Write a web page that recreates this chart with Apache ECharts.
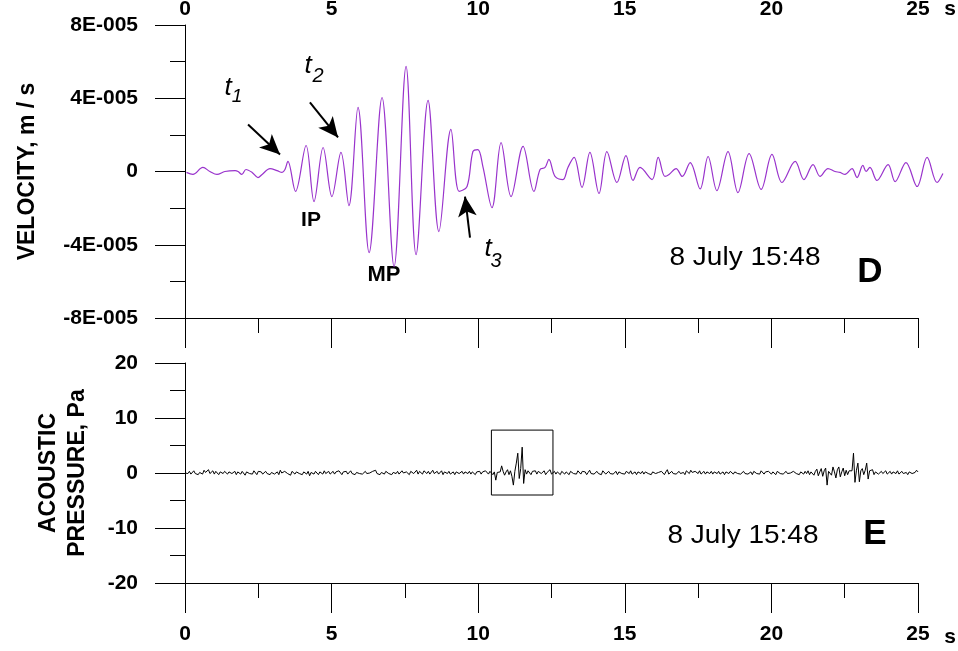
<!DOCTYPE html>
<html>
<head>
<meta charset="utf-8">
<title>Velocity and acoustic pressure, 8 July 15:48</title>
<script src="https://cdn.jsdelivr.net/npm/echarts@6/dist/echarts.min.js"></script>
<style>
  html, body { margin: 0; padding: 0; background: #fff; }
  #chart { width: 958px; height: 651px; }
</style>
</head>
<body>
<div id="chart"></div>
<script>
// Time ticks shared by both panels (s)
const timeTicks = [0, 5, 10, 15, 20, 25];

// Ground velocity: sample times (s) and values (units of 1E-005 m/s)
const velTime = [
  0.05, 0.27, 0.61, 0.85, 1.09, 1.36, 1.71, 1.81, 1.94, 2.08,
  2.29, 2.49, 2.63, 2.90, 3.14, 3.31, 3.41, 3.51, 3.77, 4.13,
  4.40, 4.71, 5.01, 5.32, 5.59, 5.90, 6.28, 6.72, 7.13, 7.54,
  7.88, 8.29, 8.66, 9.07, 9.35, 9.62, 9.82, 9.99, 10.16, 10.47,
  10.78, 11.12, 11.53, 11.90, 12.11, 12.28, 12.41, 12.62, 12.89, 13.06,
  13.27, 13.54, 13.81, 14.12, 14.39, 14.73, 15.04, 15.28, 15.52, 15.93,
  16.14, 16.37, 16.51, 16.75, 16.96, 17.23, 17.57, 17.84, 18.14, 18.52,
  18.86, 19.24, 19.65, 20.02, 20.36, 20.81, 21.11, 21.42, 21.66, 21.93,
  22.17, 22.34, 22.51, 22.75, 22.92, 23.12, 23.23, 23.36, 23.60, 23.98,
  24.22, 24.59, 24.97, 25.31, 25.65, 25.85
];
const velValue = [
  -0.05, -0.16, 0.22, 0, -0.16, 0, 0.05, 0, -0.16, 0.11,
  -0.05, -0.33, -0.16, 0.16, 0.05, -0.05, 0.11, 0.55, -1.09, 1.42,
  -1.64, 1.31, -1.37, 1.04, -1.86, 3.50, -4.43, 4.04, -5.19, 5.74,
  -4.54, 3.88, -3.28, 2.30, -1.09, -0.82, 1.09, 1.20, 0.27, -1.97,
  1.58, -1.37, 1.37, -1.09, 0.11, 0.22, 0.66, -0.27, -0.44, 0.22,
  0.77, -0.87, 1.04, -1.20, 1.09, -0.60, 0.87, -0.49, 0.22, -0.44,
  0.77, -0.27, -0.16, 0.16, -0.27, 0.49, -0.95, 0.82, -1.04, 1.09,
  -1.15, 0.98, -0.98, 0.93, -0.60, 0.55, -0.44, 0.38, -0.27, 0.16,
  0, -0.05, -0.16, 0.16, -0.33, 0.33, 0, 0.22, -0.49, 0.38,
  -0.55, 0.49, -0.82, 0.77, -0.60, -0.11
];
const VEL_UNIT = 1e-5;
// The velocity record runs a little past the last time tick
const VEL_T_END = 26;

// Acoustic pressure (Pa), sampled every 0.05 s from t = 0 (one row per second)
const PRESSURE_DT = 0.05;
const pressure = [
  0, 0.2, -0.1, 0.3, -0.2, 0.1, 0.4, -0.1, 0.2, -0.3, 0.1, 0.3, -0.2, 0.5, 0.1, -0.2, 0.6, -0.1, 0.2, 0.4,
  -0.2, 0.3, 0.1, -0.3, 0.2, 0.4, -0.1, 0.3, 0, -0.2, 0.2, 0.5, -0.1, 0.1, 0.3, -0.3, 0.2, 0.1, -0.2, 0.3,
  0.1, -0.4, 0.2, 0.3, -0.1, 0.2, -0.2, 0.4, 0.1, -0.3, 0.3, 0, 0.2, -0.2, 0.1, 0.3, -0.1, 0.2, -0.3, 0.1,
  0.4, -0.2, 0.1, 0.2, -0.3, 0.5, 0, -0.2, 0.3, 0.1, -0.1, 0.2, -0.4, 0.3, 0.1, -0.2, 0.2, 0.4, -0.1, 0.1,
  -0.3, 0.2, 0.1, -0.2, 0.3, -0.5, 0.1, 0.2, -0.2, 0.3, 0, -0.3, 0.2, 0.1, -0.2, 0.4, -0.1, 0.2, 0.3, -0.2,
  0.1, 0.3, -0.2, 0.2, -0.1, 0.4, 0.1, -0.3, 0.2, 0, 0.3, -0.2, 0.1, 0.4, -0.1, 0.2, -0.3, 0.1, 0.3, -0.1,
  0.2, -0.2, 0.1, 0.3, -0.1, 0.2, 0, -0.2, 0.3, 0.1, 0.5, -0.1, 0.2, -0.3, 0.1, 0.2, -0.2, 0.3, 0.1, -0.1,
  0.2, -0.3, 0.1, 0.2, -0.1, 0.3, -0.2, 0.1, 0.4, 0, -0.2, 0.2, 0.1, -0.3, 0.3, 0.1, -0.1, 0.2, 0.5, -0.2,
  0.3, 0.1, -0.2, 0.4, 0.2, -0.1, 0.3, -0.2, 0.1, 0.5, -0.1, 0.2, 0.3, -0.2, 0.1, 0.4, -0.3, 0.2, 0.1, -0.1,
  0.3, -0.2, 0.1, 0.2, -0.3, 0.2, 0.4, -0.1, 0.1, 0.3, -0.2, 0.2, 0.1, -0.1, 0.3, -0.2, 0.2, 0.1, -0.3, 0.2,
  0.1, 0.3, -0.2, 0.2, -0.1, 0.4, 0.1, -0.2, 0.3, 0.5, -0.3, 0.2, -1.3, 0.1, 0.4, 0.2, 1.3, 0.3, -0.4, 0.2,
  0.6, -0.3, 0.4, -0.6, -2.2, 0.3, 1.8, 3.6, -1.0, 0.8, 4.7, -1.9, 0.6, -0.2, 0.4, 0.1, -0.3, 0.3, 0.1, 0.4,
  -0.2, 0.3, 0.5, -0.1, 0.2, 0.4, -0.3, 0.1, 0.2, 0.6, -0.2, 0.1, 0.3, -0.2, 0.2, 0.1, -0.3, 0.3, 0, -0.2,
  0.2, 0.1, -0.3, 0.3, 0.1, -0.1, 0.2, -0.2, 0.4, 0.1, -0.2, 0.3, 0, 0.2, -0.3, 0.1, 0.5, -0.1, 0.2, -0.2,
  0.1, 0.3, -0.1, 0.2, -0.3, 0.4, 0.6, -0.2, 0.1, 0.3, -0.1, 0.2, -0.2, 0.1, 0.3, -0.3, 0.2, 0.1, -0.1, 0.2,
  -0.2, 0.3, 0.1, -0.1, 0.4, -0.2, 0.1, 0.2, -0.3, 0.2, 0.1, -0.1, 0.3, -0.2, 0.2, 0.4, -0.1, 0.1, -0.3, 0.2,
  0.3, -0.1, 0.2, 0.1, -0.2, 0.3, 0.1, -0.3, 0.2, 0.6, -0.2, 0.1, 0.3, -0.1, 0.2, -0.2, 0.1, 0.3, -0.1, 0.2,
  0.1, -0.3, 0.4, 0.2, -0.1, 0.5, 0.1, -0.2, 0.3, 0.2, -0.1, 0.4, -0.2, 0.1, 0.3, -0.2, 0.2, 0, -0.1, 0.3,
  -0.2, 0.2, 0.1, -0.1, 0.3, -0.2, 0.1, 0.2, -0.3, 0.2, 0.1, -0.1, 0.3, 0, -0.2, 0.2, 0.1, -0.1, 0.2, -0.2,
  0.1, 0.3, -0.1, 0.2, -0.2, 0.1, 0.2, -0.3, 0.3, 0.1, -0.1, 0.2, -0.2, 0.4, 0.1, -0.2, 0.2, -0.1, 0.3, 0.1,
  -0.2, 0.2, 0.1, -0.3, 0.3, 0.1, -0.1, 0.2, -0.2, 0.1, 0.3, -0.1, 0.2, 0, -0.2, 0.3, 0.1, -0.1, 0.2, -0.3,
  0.2, 0.1, -0.2, 0.3, -0.1, 0.4, -0.3, 0.2, 0.5, -0.4, 0.3, 0.7, -0.5, 0.2, 0.8, -0.6, 0.4, 0.9, -2.2, 0.3,
  0.5, -0.4, 1.1, 0.2, -0.9, 0.6, 1.1, -0.7, 0.2, 0.9, -0.5, 0.5, -0.3, 0.4, 0.2, 0.4, 3.6, -1.7, 0.5, 1.8,
  -1.6, 0.4, 0.8, -0.3, 0.5, 1.8, -1.1, 0.4, 0.2, 0.6, -0.3, 0.2, 0.4, -0.2, 0.1, 0.3, -0.1, 0.2, 0.4, -0.2,
  0.1, 0.3, -0.2, 0.2, 0.1, -0.1, 0.4, -0.2, 0.1, 0.3, -0.1, 0.2, 0.1, -0.3, 0.2, 0.4, -0.1, 0.2, 0.1, 0.5,
  0.2
];

// Arrow annotations on the velocity trace: [tailTime, tailVel, tipTime, tipVel] (vel in 1E-005 m/s)
const arrowT1 = [2.15, 2.57, 3.24, 0.93];
const arrowT2 = [4.26, 3.77, 5.22, 1.86];
const arrowT3 = [9.72, -3.61, 9.55, -1.37];

// Boxed pressure burst: [t0, p0, t1, p1]
const burstBox = [10.45, 7.8, 12.55, -4.0];

const velocityData = velTime.map((t, i) => [t, velValue[i] * VEL_UNIT]);
const pressureData = pressure.map((p, i) => [+(i * PRESSURE_DT).toFixed(2), p]);

const FONT = '"Liberation Sans", Arial, Helvetica, sans-serif';
const BLACK = '#000';

// Plot frame geometry (px)
const PLOT_LEFT = 185;
const PLOT_WIDTH = 733;
const T_MAX = timeTicks[timeTicks.length - 1];

function arrow(a) {
  return [
    { coord: [a[0], a[1] * VEL_UNIT], symbol: 'none' },
    { coord: [a[2], a[3] * VEL_UNIT], symbol: 'arrow' }
  ];
}

function velLabel(v) {
  const m = Math.round(v / VEL_UNIT);
  return m === 0 ? '0' : m + 'E-005';
}

const tickStyle = { color: BLACK, width: 1 };
const labelStyle = { color: BLACK, fontFamily: FONT, fontSize: 21, fontWeight: 'bold' };

function timeAxis(gridIndex, position, withLine, withLabels, margin) {
  return {
    type: 'value', gridIndex, position,
    min: timeTicks[0], max: T_MAX, interval: timeTicks[1] - timeTicks[0],
    axisLine: { show: withLine, onZero: false, lineStyle: tickStyle },
    axisTick: { show: withLine, length: 30, lineStyle: tickStyle },
    minorTick: { show: withLine, splitNumber: 2, length: 15, lineStyle: tickStyle },
    axisLabel: Object.assign({ show: withLabels, margin, formatter: v => String(v) }, labelStyle),
    splitLine: { show: false }, minorSplitLine: { show: false }
  };
}

function text(str, x, y, font, extra) {
  return Object.assign({
    type: 'text', x, y, silent: true,
    style: { text: str, font, fill: BLACK, align: 'center', verticalAlign: 'middle' }
  }, extra || {});
}

const chart = echarts.init(document.getElementById('chart'), null, { renderer: 'canvas' });

chart.setOption({
  animation: false,
  backgroundColor: '#fff',
  grid: [
    { left: PLOT_LEFT, top: 25, width: PLOT_WIDTH, height: 293, outerBoundsMode: 'none' },
    { left: PLOT_LEFT, top: 363, width: PLOT_WIDTH, height: 220, outerBoundsMode: 'none' },
    // same time scale as the top panel, extended so the record can run past 25 s
    { left: PLOT_LEFT, top: 25, width: PLOT_WIDTH * VEL_T_END / T_MAX, height: 293, outerBoundsMode: 'none' }
  ],
  xAxis: [
    timeAxis(0, 'bottom', true, false, 0),
    timeAxis(0, 'top', false, true, 5),
    timeAxis(1, 'bottom', true, true, 41),
    { type: 'value', gridIndex: 2, min: 0, max: VEL_T_END, show: false }
  ],
  yAxis: [
    {
      type: 'value', gridIndex: 0, min: -8e-5, max: 8e-5, interval: 4e-5,
      axisLine: { show: true, onZero: false, lineStyle: tickStyle },
      axisTick: { show: true, length: 30, lineStyle: tickStyle },
      minorTick: { show: true, splitNumber: 2, length: 15, lineStyle: tickStyle },
      axisLabel: Object.assign({ margin: 47, formatter: velLabel }, labelStyle),
      splitLine: { show: false }, minorSplitLine: { show: false },
      name: 'VELOCITY, m / s', nameLocation: 'middle', nameRotate: 90, nameGap: 146,
      nameTextStyle: { color: BLACK, fontFamily: FONT, fontSize: 23, fontWeight: 'bold' }
    },
    {
      type: 'value', gridIndex: 1, min: -20, max: 20, interval: 10,
      axisLine: { show: true, onZero: false, lineStyle: tickStyle },
      axisTick: { show: true, length: 30, lineStyle: tickStyle },
      minorTick: { show: true, splitNumber: 2, length: 15, lineStyle: tickStyle },
      axisLabel: Object.assign({ margin: 47 }, labelStyle),
      splitLine: { show: false }, minorSplitLine: { show: false },
      name: 'ACOUSTIC\nPRESSURE, Pa', nameLocation: 'middle', nameRotate: 90, nameGap: 93,
      nameTextStyle: { color: BLACK, fontFamily: FONT, fontSize: 23, fontWeight: 'bold', lineHeight: 29 }
    },
    { type: 'value', gridIndex: 2, min: -8e-5, max: 8e-5, show: false }
  ],
  series: [
    {
      name: 'Velocity', type: 'line', xAxisIndex: 3, yAxisIndex: 2,
      data: velocityData, showSymbol: false, smooth: 0.35, clip: false,
      lineStyle: { color: '#9933cc', width: 1.2 },
      markLine: {
        silent: true, symbolSize: [14, 20], animation: false,
        lineStyle: { color: BLACK, width: 2, type: 'solid' },
        label: { show: false }, emphasis: { disabled: true },
        data: [arrow(arrowT1), arrow(arrowT2), arrow(arrowT3)]
      }
    },
    {
      name: 'Acoustic pressure', type: 'line', xAxisIndex: 2, yAxisIndex: 1,
      data: pressureData, showSymbol: false, clip: false,
      lineStyle: { color: BLACK, width: 1 },
      markArea: {
        silent: true,
        itemStyle: { color: 'rgba(0,0,0,0)', borderColor: BLACK, borderWidth: 1 },
        label: { show: false },
        data: [[{ coord: [burstBox[0], burstBox[1]] }, { coord: [burstBox[2], burstBox[3]] }]]
      }
    }
  ],
  graphic: [
    text('s', 950, 9, 'bold 21px ' + FONT),
    text('s', 950, 637, 'bold 21px ' + FONT),
    text('t', 228, 88, 'italic 26px ' + FONT),
    text('1', 237, 97, 'italic 19px ' + FONT),
    text('t', 308, 66, 'italic 26px ' + FONT),
    text('2', 318, 76, 'italic 20px ' + FONT),
    text('t', 488, 249, 'italic 26px ' + FONT),
    text('3', 496, 261, 'italic 20px ' + FONT),
    text('IP', 311, 220, 'bold 21px ' + FONT),
    text('MP', 384, 275, 'bold 22px ' + FONT),
    text('8 July 15:48', 745, 258, '25px ' + FONT, { scaleX: 1.12 }),
    text('8 July 15:48', 743, 536, '25px ' + FONT, { scaleX: 1.12 }),
    text('D', 870, 272, 'bold 35px ' + FONT),
    text('E', 875, 534, 'bold 35px ' + FONT)
  ]
});
</script>
</body>
</html>
